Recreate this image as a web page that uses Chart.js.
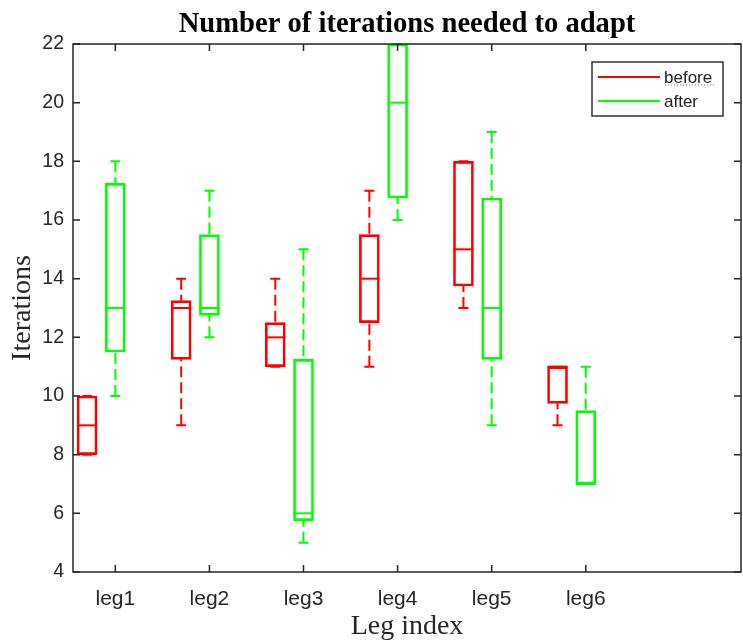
<!DOCTYPE html>
<html>
<head>
<meta charset="utf-8">
<script src="https://cdn.jsdelivr.net/npm/chart.js@4.4.1/dist/chart.umd.min.js"></script>
<style>
  body { margin: 0; background: #fff; }
</style>
</head>
<body>
<canvas id="myChart" width="743" height="642"></canvas>
<script>
//Data
const categories = ['leg1', 'leg2', 'leg3', 'leg4', 'leg5', 'leg6']
const yTicks = [4, 6, 8, 10, 12, 14, 16, 18, 20, 22]

const beforeMin    = [8, 9, 11, 11, 13, 9]
const beforeQ1     = [8, 11.25, 11, 12.5, 13.75, 9.75]
const beforeMedian = [9, 13, 12, 14, 15, 11]
const beforeQ3     = [10, 13.25, 12.5, 15.5, 18, 11]
const beforeMax    = [10, 14, 14, 17, 18, 11]

const afterMin    = [10, 12, 5, 16, 9, 7]
const afterQ1     = [11.5, 12.75, 5.75, 16.75, 11.25, 7]
const afterMedian = [13, 13, 6, 20, 13, 7]
const afterQ3     = [17.25, 15.5, 11.25, 22, 16.75, 9.5]
const afterMax    = [18, 17, 15, 22, 19, 11]

//Styles
const red = '#ff0000'
const green = '#00ff00'
const axisColor = '#262626'
const serif = "'Liberation Serif', 'Times New Roman', serif"
const sans = "'Liberation Sans', Arial, sans-serif"

// before boxes sit a bit left of the tick, after boxes on the tick
const shifts = [-0.3, 0]
const stats = [
  { min: beforeMin, q1: beforeQ1, med: beforeMedian, q3: beforeQ3, max: beforeMax },
  { min: afterMin, q1: afterQ1, med: afterMedian, q3: afterQ3, max: afterMax }
]

function boxes(q1, q3, shift) {
  return q1.map((v, i) => ({ x: i + 1 + shift, y: [v, q3[i]] }))
}

//Whiskers and medians
const boxExtras = {
  id: 'boxExtras',
  afterDatasetsDraw(chart) {
    const ctx = chart.ctx
    const y = chart.scales.y
    chart.data.datasets.forEach((ds, di) => {
      const s = stats[di]
      chart.getDatasetMeta(di).data.forEach((bar, i) => {
        const half = bar.width / 2
        const pMed = y.getPixelForValue(s.med[i])
        const pQ1 = y.getPixelForValue(s.q1[i])
        const pQ3 = y.getPixelForValue(s.q3[i])
        const pMin = y.getPixelForValue(s.min[i])
        const pMax = y.getPixelForValue(s.max[i])
        ctx.save()
        ctx.strokeStyle = ds.borderColor
        ctx.lineWidth = 2
        // median
        ctx.beginPath()
        ctx.moveTo(bar.x - half, pMed)
        ctx.lineTo(bar.x + half, pMed)
        ctx.stroke()
        // caps
        ctx.beginPath()
        ctx.moveTo(bar.x - half / 2, pMax)
        ctx.lineTo(bar.x + half / 2, pMax)
        ctx.moveTo(bar.x - half / 2, pMin)
        ctx.lineTo(bar.x + half / 2, pMin)
        ctx.stroke()
        // dashed whiskers
        ctx.setLineDash([11, 5])
        ctx.beginPath()
        if (pMax < pQ3) { ctx.moveTo(bar.x, pMax); ctx.lineTo(bar.x, pQ3) }
        if (pMin > pQ1) { ctx.moveTo(bar.x, pMin); ctx.lineTo(bar.x, pQ1) }
        ctx.stroke()
        ctx.restore()
      })
    })
  }
}

//Frame, inward ticks and legend
const frame = {
  id: 'frame',
  afterDraw(chart) {
    const ctx = chart.ctx
    const a = chart.chartArea
    const len = 7
    ctx.save()
    ctx.strokeStyle = axisColor
    ctx.lineWidth = 1.5
    ctx.strokeRect(a.left, a.top, a.right - a.left, a.bottom - a.top)
    ctx.beginPath()
    chart.scales.x.ticks.forEach(t => {
      const px = chart.scales.x.getPixelForValue(t.value)
      ctx.moveTo(px, a.bottom); ctx.lineTo(px, a.bottom - len)
      ctx.moveTo(px, a.top); ctx.lineTo(px, a.top + len)
    })
    chart.scales.y.ticks.forEach(t => {
      const py = chart.scales.y.getPixelForValue(t.value)
      ctx.moveTo(a.left, py); ctx.lineTo(a.left + len, py)
      ctx.moveTo(a.right, py); ctx.lineTo(a.right - len, py)
    })
    ctx.stroke()

    // legend
    const lx = 592, ly = 62, lw = 131, lh = 54
    ctx.fillStyle = '#fff'
    ctx.fillRect(lx, ly, lw, lh)
    ctx.strokeStyle = '#333'
    ctx.strokeRect(lx, ly, lw, lh)
    ctx.font = '17px ' + sans
    ctx.textBaseline = 'alphabetic'
    chart.data.datasets.forEach((ds, i) => {
      const rowY = ly + 15 + i * 24
      ctx.strokeStyle = ds.borderColor
      ctx.lineWidth = 2
      ctx.beginPath()
      ctx.moveTo(lx + 6, rowY); ctx.lineTo(lx + 68, rowY)
      ctx.stroke()
      ctx.fillStyle = '#222'
      ctx.fillText(ds.label, lx + 72, rowY + 6)
    })
    // spell-check squiggle under "before"
    ctx.strokeStyle = '#3a9a3a'
    ctx.lineWidth = 1
    ctx.setLineDash([1, 2])
    ctx.beginPath()
    ctx.moveTo(lx + 73, ly + 23); ctx.lineTo(lx + 124, ly + 23)
    ctx.stroke()
    ctx.restore()
  }
}

var ctx = document.getElementById('myChart')
var myChart = new Chart(ctx, {
  type: 'bar',
  data: {
    datasets: [
      {
        label: 'before',
        data: boxes(beforeQ1, beforeQ3, shifts[0]),
        borderColor: red,
        backgroundColor: 'rgba(0,0,0,0)',
        borderWidth: 2,
        borderSkipped: false,
        barThickness: 20,
        grouped: false,
      },
      {
        label: 'after',
        data: boxes(afterQ1, afterQ3, shifts[1]),
        borderColor: green,
        backgroundColor: 'rgba(0,0,0,0)',
        borderWidth: 2,
        borderSkipped: false,
        barThickness: 20,
        grouped: false,
      },
    ],
  },
  options: {
    responsive: false,
    animation: false,
    layout: { padding: { top: 0, right: 2, bottom: 0, left: 0 } },
    plugins: {
      legend: { display: false },
      tooltip: { enabled: false },
      title: {
        display: true,
        fullSize: false,
        text: 'Number of iterations needed to adapt',
        color: '#000',
        font: { family: serif, size: 28.6, weight: 'bold' },
        padding: { top: 7, bottom: 2.7 },
      },
    },
    scales: {
      x: {
        type: 'linear',
        min: 0.55,
        max: 7.65,
        offset: false,
        grid: { display: false },
        border: { display: false },
        afterBuildTicks: s => { s.ticks = categories.map((c, i) => ({ value: i + 1 })) },
        ticks: {
          callback: (v, i) => categories[i],
          color: axisColor,
          font: { family: sans, size: 21 },
          padding: 7,
          maxRotation: 0,
          autoSkip: false,
        },
        title: {
          display: true,
          text: 'Leg index',
          color: axisColor,
          font: { family: serif, size: 28, lineHeight: 1.1 },
          padding: 0,
        },
        afterFit: s => { s.height = 70 },
      },
      y: {
        min: 4,
        max: 22,
        grid: { display: false },
        border: { display: false },
        afterBuildTicks: s => { s.ticks = yTicks.map(v => ({ value: v })) },
        ticks: {
          color: axisColor,
          font: { family: sans, size: 19.5 },
          padding: 1,
        },
        title: {
          display: true,
          text: 'Iterations',
          color: axisColor,
          font: { family: serif, size: 28 },
          padding: { top: 6, bottom: 0 },
        },
        afterFit: s => { s.width = 73 },
      },
    },
  },
  plugins: [boxExtras, frame],
});
</script>
</body>
</html>
